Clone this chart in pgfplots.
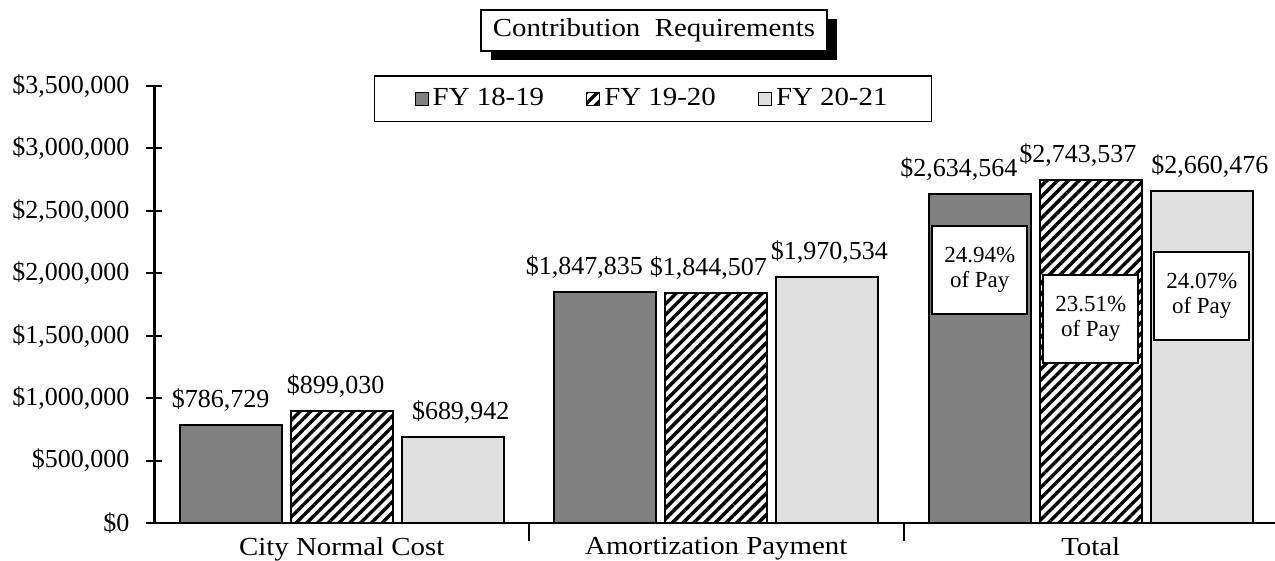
\documentclass[border=0pt]{standalone}
\usepackage{fontspec}
\setmainfont{Liberation Serif}
\newfontfamily\widefont[FakeStretch=1.11]{Liberation Serif}
\usepackage{pgfplots}
\usepackage{pgfplotstable}
\pgfplotsset{compat=1.18}
\usetikzlibrary{patterns.meta,shadows}
\definecolor{cA}{RGB}{128,128,128}
\definecolor{cC}{RGB}{224,224,224}

\pgfplotstableread{
x y dx lab
0 786729 -5 786,729
1 1847835 -10.5 1,847,835
2 2634564 -10.5 2,634,564
}\dataA
\pgfplotstableread{
x y dx lab
0 899030 -3 899,030
1 1844507 -4 1,844,507
2 2743537 -6.5 2,743,537
}\dataB
\pgfplotstableread{
x y dx lab
0 689942 4 689,942
1 1970534 1 1,970,534
2 2660476 4 2,660,476
}\dataC

\begin{document}
\fontsize{13pt}{15pt}\selectfont
\begin{tikzpicture}
\begin{axis}[
  at={(0,0)}, anchor=south west,
  scale only axis,
  width=561.75pt, height=218.5pt,
  xmin=-0.5, xmax=2.5,
  ymin=0, ymax=3500000,
  clip=false,
  axis lines*=left,
  axis line style={line width=1.2pt},
  ytick={0,500000,1000000,1500000,2000000,2500000,3000000,3500000},
  yticklabel={\$\pgfmathprintnumber[fixed,precision=0,1000 sep={,}]{\tick}},
  yticklabel style={xshift=-4pt},
  /pgf/number format/assume math mode=true,
  scaled y ticks=false,
  xtick={0,1,2},
  xticklabels={City Normal Cost, Amortization Payment, Total},
  xticklabel style={yshift=5.5pt, font=\widefont\fontsize{13pt}{15pt}\selectfont},
  minor xtick={0.5,1.5},
  tick align=center,
  major tick length=8pt,
  minor tick length=9pt,
  major x tick style={draw=none},
  every tick/.style={line width=1pt, black},
  every minor tick/.style={line width=1pt, black},
  ybar, bar width=51pt,
  point meta=explicit symbolic,
  nodes near coords={\$\pgfplotspointmeta},
  every node near coord/.append style={font=\fontsize{13pt}{15pt}\selectfont, black, yshift=2pt},
  legend columns=3,
  legend style={at={(rel axis cs:0.4437,0.971)}, anchor=center, draw=black, line width=0.7pt,
    inner xsep=20pt, inner ysep=4pt,
    /tikz/every even column/.append style={column sep=19pt},
    font=\widefont\fontsize{13pt}{15pt}\selectfont},
  legend image code/.code={\draw[#1, line width=0.6pt] (0pt,-3.25pt) rectangle (6.5pt,3.25pt);},
]
\addplot[bar shift=-55.5pt, fill=cA, draw=black, line width=1pt,
  visualization depends on={\thisrow{dx} \as \dx},
  every node near coord/.append style={xshift=\dx pt}]
  table[x=x, y=y, meta=lab] {\dataA};
\addlegendentry{FY 18-19}
\addplot[bar shift=0pt, draw=black, line width=1pt,
  pattern={Lines[angle=45, distance=3.8pt, line width=1.7pt]}, pattern color=black,
  visualization depends on={\thisrow{dx} \as \dx},
  every node near coord/.append style={xshift=\dx pt}]
  table[x=x, y=y, meta=lab] {\dataB};
\addlegendentry{FY 19-20}
\addplot[bar shift=55.5pt, fill=cC, draw=black, line width=1pt,
  visualization depends on={\thisrow{dx} \as \dx},
  every node near coord/.append style={xshift=\dx pt}]
  table[x=x, y=y, meta=lab] {\dataC};
\addlegendentry{FY 20-21}

\node[draw=black, fill=white, line width=0.8pt, minimum width=47.5pt, minimum height=44pt,
  align=center, font=\fontsize{11.5pt}{12.5pt}\selectfont]
  at ([xshift=-55.5pt]axis cs:2,2028000) {24.94\%\\of Pay};
\node[draw=black, fill=white, line width=0.8pt, minimum width=47.5pt, minimum height=44pt,
  align=center, font=\fontsize{11.5pt}{12.5pt}\selectfont]
  at (axis cs:2,1636000) {23.51\%\\of Pay};
\node[draw=black, fill=white, line width=0.8pt, minimum width=47.5pt, minimum height=44pt,
  align=center, font=\fontsize{11.5pt}{12.5pt}\selectfont]
  at ([xshift=55.5pt]axis cs:2,1820000) {24.07\%\\of Pay};

\node[draw=black, fill=white, line width=0.8pt, inner xsep=6pt, minimum height=20pt,
  drop shadow={shadow xshift=5pt, shadow yshift=-4.5pt, fill=black, opacity=1},
  font=\widefont\fontsize{13pt}{15pt}\selectfont]
  at (rel axis cs:0.4446,1.1274) {Contribution\ \ Requirements};
\end{axis}
\pgfresetboundingbox
\path (-77.25pt,-19pt) rectangle (560.25pt,261.5pt);
\end{tikzpicture}
\end{document}
